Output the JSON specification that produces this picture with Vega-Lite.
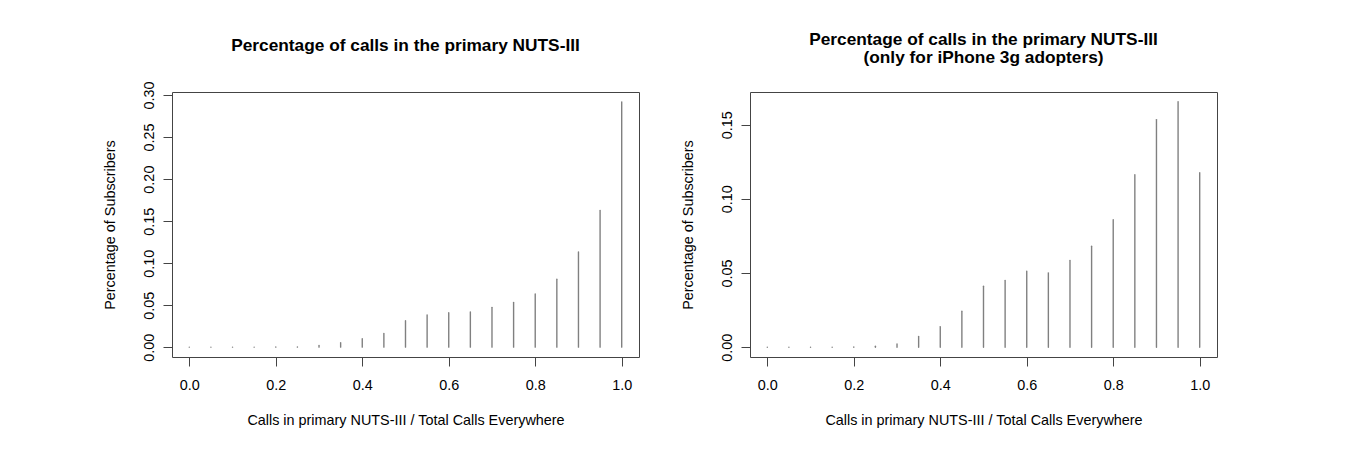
{
  "$schema": "https://vega.github.io/schema/vega-lite/v6.json",
  "background": "white",
  "padding": {"left": 101, "top": 30, "right": 0, "bottom": 0},
  "bounds": "flush",
  "spacing": 111,
  "config": {
    "font": "Liberation Sans",
    "view": {"stroke": "#444", "strokeWidth": 1},
    "axis": {"grid": false, "domain": false, "tickColor": "#444", "tickSize": 9, "labelFont": "Liberation Sans", "labelFontSize": 14.4, "labelColor": "#000", "titleFont": "Liberation Sans", "titleFontSize": 14.4, "titleFontWeight": "normal", "titleColor": "#000"},
    "title": {"font": "Liberation Sans", "fontSize": 17.3, "fontWeight": "bold", "anchor": "middle", "color": "#000", "lineHeight": 18.5}
  },
  "hconcat": [
    {
      "title": {"text": "Percentage of calls in the primary NUTS-III", "offset": 26.5},
      "width": 467,
      "height": 265,
      "data": {"values": [
        {"x": 0.00, "p": 0}, {"x": 0.05, "p": 0}, {"x": 0.10, "p": 0}, {"x": 0.15, "p": 0},
        {"x": 0.20, "p": 0.0002}, {"x": 0.25, "p": 0.0004}, {"x": 0.30, "p": 0.002}, {"x": 0.35, "p": 0.0052},
        {"x": 0.40, "p": 0.010}, {"x": 0.45, "p": 0.0163}, {"x": 0.50, "p": 0.0314}, {"x": 0.55, "p": 0.0382},
        {"x": 0.60, "p": 0.041}, {"x": 0.65, "p": 0.0418}, {"x": 0.70, "p": 0.0474}, {"x": 0.75, "p": 0.0533},
        {"x": 0.80, "p": 0.0633}, {"x": 0.85, "p": 0.0808}, {"x": 0.90, "p": 0.1134}, {"x": 0.95, "p": 0.1628},
        {"x": 1.00, "p": 0.292}
      ]},
      "mark": {"type": "rule", "color": "#808080", "strokeWidth": 1.4, "strokeCap": "round"},
      "encoding": {
        "x": {"field": "x", "type": "quantitative", "scale": {"domain": [-0.04, 1.04], "nice": false, "zero": false},
              "axis": {"values": [0, 0.2, 0.4, 0.6, 0.8, 1], "format": ".1f", "title": "Calls in primary NUTS-III / Total Calls Everywhere", "labelPadding": 12, "titlePadding": 22}},
        "y": {"field": "p", "type": "quantitative", "scale": {"domain": [-0.0117, 0.3037], "nice": false, "zero": false},
              "axis": {"values": [0, 0.05, 0.1, 0.15, 0.2, 0.25, 0.3], "format": ".2f", "labelAngle": -90, "labelAlign": "center", "labelBaseline": "bottom", "labelPadding": 7, "title": "Percentage of Subscribers", "titlePadding": 24}},
        "y2": {"datum": 0}
      }
    },
    {
      "title": {"text": ["Percentage of calls in the primary NUTS-III", "(only for iPhone 3g adopters)"], "offset": 25.5},
      "width": 467,
      "height": 265,
      "data": {"values": [
        {"x": 0.00, "p": 0}, {"x": 0.05, "p": 0}, {"x": 0.10, "p": 0}, {"x": 0.15, "p": 0},
        {"x": 0.20, "p": 0.0002}, {"x": 0.25, "p": 0.0007}, {"x": 0.30, "p": 0.0022}, {"x": 0.35, "p": 0.0072},
        {"x": 0.40, "p": 0.0139}, {"x": 0.45, "p": 0.0243}, {"x": 0.50, "p": 0.0411}, {"x": 0.55, "p": 0.045},
        {"x": 0.60, "p": 0.0513}, {"x": 0.65, "p": 0.0501}, {"x": 0.70, "p": 0.0585}, {"x": 0.75, "p": 0.0681},
        {"x": 0.80, "p": 0.0859}, {"x": 0.85, "p": 0.1163}, {"x": 0.90, "p": 0.1534}, {"x": 0.95, "p": 0.1655},
        {"x": 1.00, "p": 0.1176}
      ]},
      "mark": {"type": "rule", "color": "#808080", "strokeWidth": 1.4, "strokeCap": "round"},
      "encoding": {
        "x": {"field": "x", "type": "quantitative", "scale": {"domain": [-0.04, 1.04], "nice": false, "zero": false},
              "axis": {"values": [0, 0.2, 0.4, 0.6, 0.8, 1], "format": ".1f", "title": "Calls in primary NUTS-III / Total Calls Everywhere", "labelPadding": 12, "titlePadding": 22}},
        "y": {"field": "p", "type": "quantitative", "scale": {"domain": [-0.0066, 0.172], "nice": false, "zero": false},
              "axis": {"values": [0, 0.05, 0.1, 0.15], "format": ".2f", "labelAngle": -90, "labelAlign": "center", "labelBaseline": "bottom", "labelPadding": 7, "title": "Percentage of Subscribers", "titlePadding": 24}},
        "y2": {"datum": 0}
      }
    }
  ]
}
